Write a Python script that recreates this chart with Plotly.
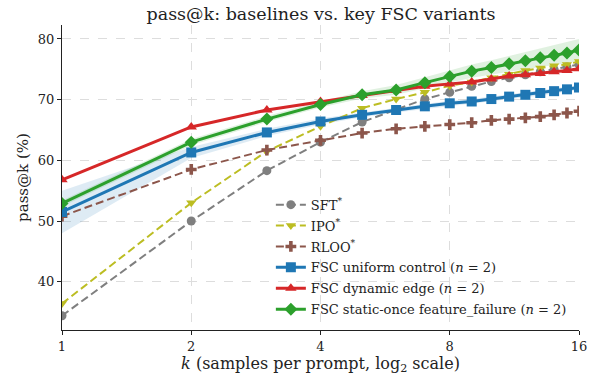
import plotly.graph_objects as go

k = list(range(1, 17))

sft = [34.4, 50.0, 58.3, 63.0, 66.3, 68.3, 70.1, 71.2, 72.2, 73.0, 73.6, 74.1, 74.6, 75.0, 75.4, 75.8]
ipo = [36.4, 53.0, 61.5, 65.6, 68.6, 70.1, 71.2, 72.3, 72.9, 73.6, 74.2, 74.8, 75.2, 75.6, 75.8, 76.3]
rloo = [50.8, 58.5, 61.7, 63.3, 64.5, 65.2, 65.6, 65.9, 66.2, 66.6, 66.8, 67.0, 67.2, 67.5, 67.8, 68.1]
fsc_uniform = [51.5, 61.3, 64.6, 66.4, 67.5, 68.3, 68.9, 69.4, 69.7, 70.1, 70.5, 70.8, 71.1, 71.4, 71.7, 72.0]
fsc_dynamic = [56.8, 65.5, 68.3, 69.7, 70.7, 71.5, 72.2, 72.6, 72.9, 73.4, 73.9, 74.1, 74.3, 74.6, 74.8, 75.1]
fsc_static = [52.9, 63.0, 66.8, 69.2, 70.8, 71.6, 72.8, 73.8, 74.7, 75.3, 75.9, 76.4, 76.9, 77.3, 77.7, 78.2]

uniform_halfwidth = [3.5, 0.9, 0.6, 0.5, 0.4, 0.4, 0.4, 0.4, 0.4, 0.4, 0.4, 0.4, 0.4, 0.4, 0.4, 0.4]
static_halfwidth = [0.5, 0.5, 0.5, 0.5, 0.6, 0.8, 0.9, 1.0, 1.1, 1.2, 1.3, 1.4, 1.5, 1.6, 1.7, 1.8]

tick_vals = [1, 2, 4, 8, 16]
tick_text = ["1", "2", "4", "8", "16"]

FONT = "DejaVu Serif, Liberation Serif, serif"

fig = go.Figure()


def band(y, hw, color):
    lo = [a - b for a, b in zip(y, hw)]
    hi = [a + b for a, b in zip(y, hw)]
    fig.add_trace(go.Scatter(x=k + k[::-1], y=hi + lo[::-1], fill="toself",
                             fillcolor=color, line=dict(width=0),
                             hoverinfo="skip", showlegend=False, mode="lines"))


band(fsc_uniform, uniform_halfwidth, "rgba(31,119,180,0.15)")
band(fsc_static, static_halfwidth, "rgba(44,160,44,0.15)")

baselines = [
    ("SFT<sup>*</sup>", sft, "#7f7f7f", "circle"),
    ("IPO<sup>*</sup>", ipo, "#bcbd22", "triangle-down"),
    ("RLOO<sup>*</sup>", rloo, "#8c564b", "cross"),
]
for i, (name, y, c, sym) in enumerate(baselines):
    fig.add_trace(go.Scatter(x=k, y=y, name=name, mode="lines+markers", legendgroup=f"b{i}",
                             line=dict(color=c, width=2, dash="8px,4px"),
                             marker=dict(symbol=sym, size=9, color=c)))

fsc = [
    ("FSC uniform control (<i>n</i> = 2)", fsc_uniform, "#1f77b4", "square"),
    ("FSC dynamic edge (<i>n</i> = 2)", fsc_dynamic, "#d62728", "triangle-up"),
    ("FSC static-once feature_failure (<i>n</i> = 2)", fsc_static, "#2ca02c", "diamond"),
]
for i, (name, y, c, sym) in enumerate(fsc):
    fig.add_trace(go.Scatter(x=k, y=y, name=name, mode="lines+markers", legendgroup=f"f{i}",
                             line=dict(color=c, width=3),
                             marker=dict(symbol=sym, size=10, color=c)))

fig.update_layout(
    width=589, height=381,
    margin=dict(l=62, r=10, t=25, b=51),
    paper_bgcolor="white", plot_bgcolor="white",
    font=dict(family=FONT, size=13, color="#222"),
    title=dict(text="pass@k: baselines vs. key FSC variants", x=0.545, xanchor="center",
               y=0.98, yanchor="top", font=dict(family=FONT, size=17.5, color="#222")),
    legend=dict(x=0.404, y=0.46, xanchor="left", yanchor="top",
                bgcolor="rgba(255,255,255,0)", font=dict(family=FONT, size=13),
                tracegroupgap=1.0, itemwidth=30),
    showlegend=True,
)
fig.update_xaxes(type="log", range=[0, 1.20412], tickvals=tick_vals, ticktext=tick_text,
                 showgrid=True, gridcolor="#dddddd", griddash="dash", gridwidth=1,
                 showline=True, linecolor="#222", linewidth=1.2,
                 ticks="outside", ticklen=4, tickcolor="#222",
                 title=dict(text="<i>k</i> (samples per prompt, log<sub>2</sub> scale)",
                            font=dict(family=FONT, size=16), standoff=3),
                 zeroline=False, mirror=False, automargin=False)
fig.update_yaxes(range=[32.05, 82.3], tickvals=[40, 50, 60, 70, 80],
                 showgrid=True, gridcolor="#dddddd", griddash="dash", gridwidth=1,
                 showline=True, linecolor="#222", linewidth=1.2,
                 ticks="outside", ticklen=4, tickcolor="#222",
                 title=dict(text="pass@k (%)", font=dict(family=FONT, size=15), standoff=5),
                 zeroline=False, mirror=False, automargin=False)

fig.write_html("out.html", config={"displayModeBar": False},
               post_script="document.body.style.margin='0px';")
